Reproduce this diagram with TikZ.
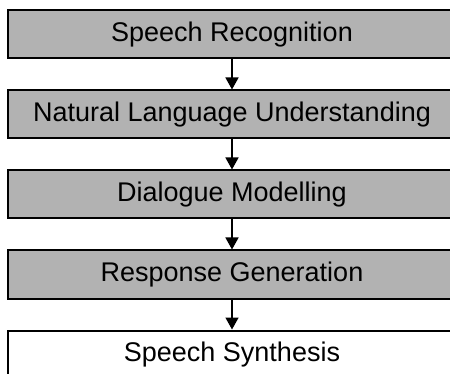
\documentclass[tikz,border=0pt]{standalone}
\usepackage{fontspec}
\setmainfont{Liberation Sans}
\usetikzlibrary{arrows.meta}
\begin{document}
\begin{tikzpicture}[x=1pt,y=-1pt,
  stage/.style={draw=black,line width=2pt,fill=black!30,minimum width=448pt,minimum height=48pt,inner sep=0pt,anchor=north,font=\fontsize{27}{32}\selectfont},
  stagewhite/.style={stage,fill=white},
  flow/.style={line width=1.5pt,-{Triangle[length=12pt,width=13pt]}}]
\useasboundingbox (0,0) rectangle (450,374);
\clip (0,0) rectangle (450,374);
\node[stage] (sr) at (232,9.5) {Speech Recognition};
\node[stage] (nlu) at (232,89.5) {Natural Language Understanding};
\node[stage] (dm) at (232,169.5) {Dialogue Modelling};
\node[stage] (rg) at (232,249.5) {Response Generation};
\node[stagewhite] (ss) at (232,329.5) {Speech Synthesis};
\draw[flow] (sr.south) -- (nlu.north);
\draw[flow] (nlu.south) -- (dm.north);
\draw[flow] (dm.south) -- (rg.north);
\draw[flow] (rg.south) -- (ss.north);
\end{tikzpicture}
\end{document}
